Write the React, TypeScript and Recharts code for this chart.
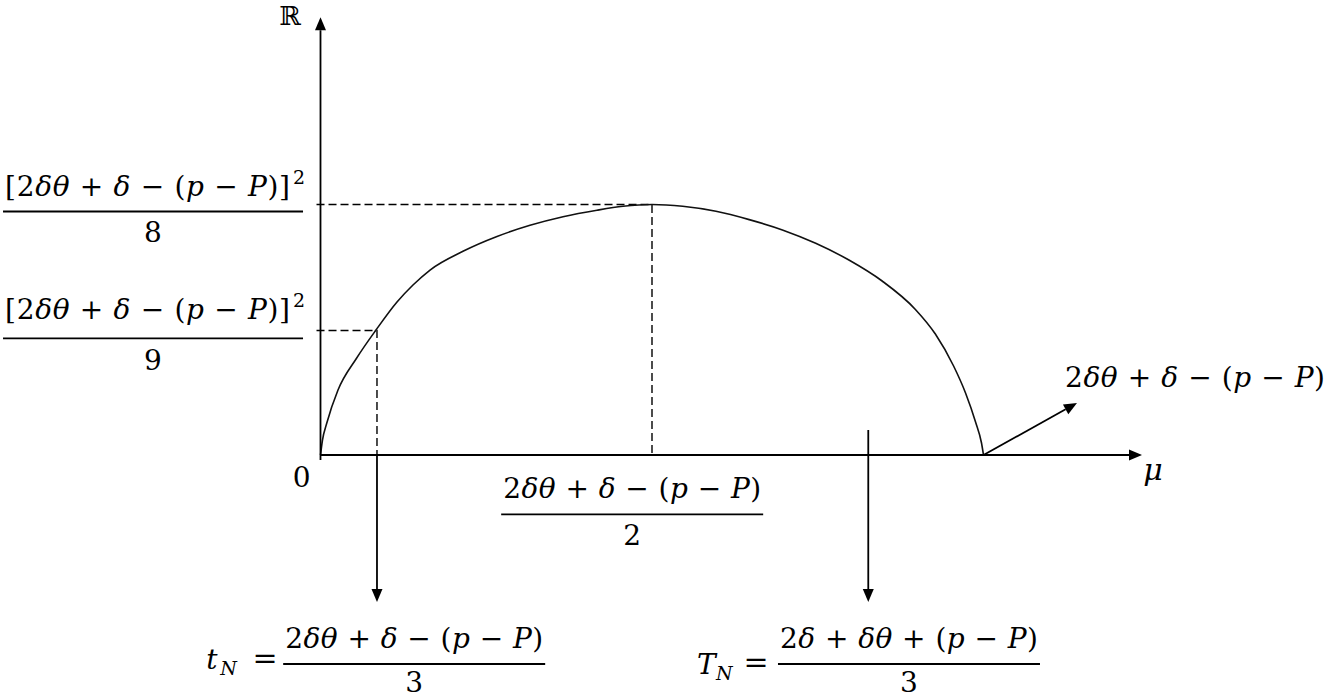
import React from "react";
import { ComposedChart, Line, XAxis, YAxis, ReferenceLine, ReferenceDot } from "recharts";

const W = 1328;
const H = 699;
const FONT = "'DejaVu Serif', serif";
const INK = "#000";

// μ is measured so that the right root = 1, ℝ so that the peak = 1
const MU_RANGE: [number, number] = [-0.4834, 1.5196];
const R_RANGE: [number, number] = [-0.974, 1.8164];

// the hump
const curveMu = [
  0, 0.003, 0.0094, 0.0264, 0.0546, 0.0837, 0.1154, 0.1395, 0.1652, 0.2149, 0.2662, 0.316,
  0.3658, 0.417, 0.4563, 0.5, 0.5463, 0.5965, 0.6466, 0.6967, 0.7469, 0.797, 0.8471, 0.8973,
  0.9274, 0.9549, 0.9729, 0.988, 0.997, 1,
];
const curveR = [
  0, 0.0599, 0.1265, 0.2595, 0.3872, 0.499, 0.6108, 0.6786, 0.7385, 0.8132, 0.8723, 0.917,
  0.9513, 0.9772, 0.9928, 1, 0.9928, 0.9729, 0.9397, 0.8986, 0.8451, 0.7784, 0.6946, 0.5812,
  0.483, 0.3553, 0.2475, 0.1317, 0.0479, 0,
];
const curve = curveMu.map((mu, i) => ({ mu, r: curveR[i] }));

// marked points
const PEAK_MU = 0.5;
const PEAK_R = 1;
const SMALL_T_MU = 0.0852;
const SMALL_T_R = 0.497;
const BIG_T_MU = 0.8262;
const ROOT_MU = 1;
const GUIDE_START = -0.006;

const peakGuide = [
  { mu: GUIDE_START, r: PEAK_R },
  { mu: PEAK_MU, r: PEAK_R },
  { mu: PEAK_MU, r: 0 },
];
const smallTGuide = [
  { mu: GUIDE_START, r: SMALL_T_R },
  { mu: SMALL_T_MU, r: SMALL_T_R },
  { mu: SMALL_T_MU, r: 0 },
];

// arrows as segments [from, to]
const arrows = [
  [{ x: 0, y: -0.02 }, { x: 0, y: 1.748 }],
  [{ x: 0, y: 0 }, { x: 1.2391, y: 0 }],
  [{ x: ROOT_MU, y: 0 }, { x: 1.141, y: 0.2076 }],
  [{ x: SMALL_T_MU, y: 0 }, { x: SMALL_T_MU, y: -0.587 }],
  [{ x: BIG_T_MU, y: 0.0998 }, { x: BIG_T_MU, y: -0.587 }],
];

const A = "2δθ + δ − (p − P)";
const A_SQ = "[2δθ + δ − (p − P)]";

function Arrow(p: any) {
  const { x1, y1, x2, y2 } = p;
  const ang = Math.atan2(y2 - y1, x2 - x1);
  const len = 13;
  const half = 5.5;
  const bx = x2 - len * Math.cos(ang);
  const by = y2 - len * Math.sin(ang);
  const ox = -Math.sin(ang) * half;
  const oy = Math.cos(ang) * half;
  return (
    <g>
      <line x1={x1} y1={y1} x2={bx} y2={by} stroke={INK} strokeWidth={1.8} />
      <polygon points={`${x2},${y2} ${bx + ox},${by + oy} ${bx - ox},${by - oy}`} fill={INK} />
    </g>
  );
}

const ITALIC = /[δθpPtTNμ]/;
function runs(s: string) {
  const out: { t: string; i: boolean }[] = [];
  for (const ch of s) {
    const i = ITALIC.test(ch);
    const last = out[out.length - 1];
    if (last && last.i === i) last.t += ch;
    else out.push({ t: ch, i });
  }
  return out;
}

function MathText({ x, y, s, size = 28, anchor = "middle", width }: any) {
  return (
    <text
      x={x}
      y={y}
      fontFamily={FONT}
      fontSize={size}
      textAnchor={anchor}
      textLength={width}
      lengthAdjust={width ? "spacing" : undefined}
      fill={INK}
      style={{ whiteSpace: "pre" }}
    >
      {runs(s).map((r, k) => (
        <tspan key={k} fontStyle={r.i ? "italic" : "normal"}>
          {r.t}
        </tspan>
      ))}
    </text>
  );
}

function Bar({ cx, cy, w }: any) {
  return <line x1={cx - w / 2} x2={cx + w / 2} y1={cy} y2={cy} stroke={INK} strokeWidth={1.8} />;
}

// fraction with [..]^2 numerator, anchored at the bar centre
const squaredOver = (den: string, lift: number, drop: number) => (p: any) => {
  const { cx, cy } = p;
  return (
    <g>
      <MathText x={cx - 148} y={cy - lift} s={A_SQ} anchor="start" width={285} />
      <MathText x={cx + 140} y={cy - lift - 12} s="2" size={19} anchor="start" />
      <Bar cx={cx} cy={cy} w={300} />
      <MathText x={cx} y={cy + drop} s={den} />
    </g>
  );
};

const plainOver = (num: string, den: string, drop: number, lead?: "t" | "T") => (p: any) => {
  const { cx, cy } = p;
  const left = cx - 131;
  return (
    <g>
      {lead === "t" && (
        <>
          <MathText x={left - 77} y={cy + 5} s="t" anchor="start" />
          <MathText x={left - 63} y={cy + 11} s="N" size={19} anchor="start" />
          <MathText x={left - 18} y={cy + 4} s="=" size={30} />
        </>
      )}
      {lead === "T" && (
        <>
          <MathText x={left - 81} y={cy + 10} s="T" anchor="start" />
          <MathText x={left - 62} y={cy + 16} s="N" size={19} anchor="start" />
          <MathText x={left - 22} y={cy + 8} s="=" size={30} />
        </>
      )}
      <MathText x={cx} y={cy - 16} s={num} width={258} />
      <Bar cx={cx} cy={cy} w={262} />
      <MathText x={cx} y={cy + drop} s={den} />
    </g>
  );
};

const plainText = (s: string, size = 28, width?: number) => (p: any) => (
  <MathText x={p.cx} y={p.cy} s={s} size={size} width={width} />
);

export default function App() {
  return (
    <div style={{ position: "absolute", left: 0, top: 0, width: W, height: H, background: "#fff" }}>
      <ComposedChart width={W} height={H} margin={{ top: 0, right: 0, bottom: 0, left: 0 }}>
        <XAxis type="number" dataKey="mu" domain={MU_RANGE} allowDataOverflow hide />
        <YAxis type="number" dataKey="r" domain={R_RANGE} allowDataOverflow hide />

        <Line data={peakGuide} dataKey="r" type="linear" stroke={INK} strokeWidth={1.4} strokeDasharray="8 4" dot={false} activeDot={false} isAnimationActive={false} />
        <Line data={smallTGuide} dataKey="r" type="linear" stroke={INK} strokeWidth={1.4} strokeDasharray="8 4" dot={false} activeDot={false} isAnimationActive={false} />
        <Line data={curve} dataKey="r" type="monotone" stroke="#111" strokeWidth={1.6} dot={false} activeDot={false} isAnimationActive={false} />

        {arrows.map((seg, i) => (
          <ReferenceLine key={i} segment={seg} shape={Arrow} />
        ))}

        <ReferenceDot x={-0.046} y={1.7166} r={0} shape={plainText("ℝ", 26)} />
        <ReferenceDot x={-0.0284} y={-0.1265} r={0} shape={plainText("0", 28)} />
        <ReferenceDot x={1.2557} y={-0.0998} r={0} shape={plainText("μ", 30)} />
        <ReferenceDot x={1.319} y={0.2715} r={0} shape={plainText(A, 28, 260)} />

        <ReferenceDot x={-0.2526} y={0.972} r={0} shape={squaredOver("8", 16, 30)} />
        <ReferenceDot x={-0.2526} y={0.4659} r={0} shape={squaredOver("9", 19, 32)} />

        <ReferenceDot x={0.4701} y={-0.2367} r={0} shape={plainOver(A, "2", 31)} />
        <ReferenceDot x={0.1413} y={-0.8343} r={0} shape={plainOver(A, "3", 28, "t")} />
        <ReferenceDot x={0.8876} y={-0.8343} r={0} shape={plainOver("2δ + δθ + (p − P)", "3", 28, "T")} />
      </ComposedChart>
    </div>
  );
}
